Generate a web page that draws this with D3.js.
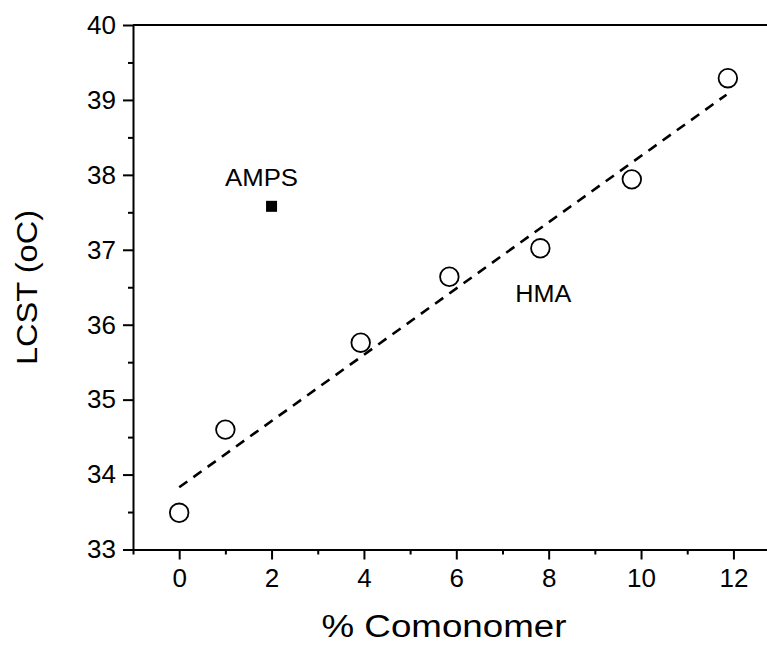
<!DOCTYPE html>
<html>
<head>
<meta charset="utf-8">
<script src="https://cdn.jsdelivr.net/npm/d3@7"></script>
<style>
  html, body { margin: 0; padding: 0; background: #fff; }
  svg { display: block; font-family: "Liberation Sans", Arial, Helvetica, sans-serif; }
</style>
</head>
<body>
<svg id="chart" width="767" height="646"></svg>
<script>
// ---- data ----
const hmaX = [0, 1, 3.93, 5.85, 7.82, 9.8, 11.88];
const hmaY = [33.49, 34.6, 35.76, 36.64, 37.02, 37.94, 39.29];
const ampsX = [2.0];
const ampsY = [37.58];
const fitX = [0, 11.85];
const fitY = [33.83, 39.07];
const xMajorTicks = [0, 2, 4, 6, 8, 10, 12];
const xMinorTicks = [-1, 1, 3, 5, 7, 9, 11];
const yMajorTicks = [33, 34, 35, 36, 37, 38, 39, 40];
const yMinorTicks = [33.5, 34.5, 35.5, 36.5, 37.5, 38.5, 39.5];
const labels = [
  { text: "AMPS", x: 2.0, y: 37.58, dx: -10, dy: -20, len: 73 },
  { text: "HMA", x: 7.82, y: 37.02, dx: 3, dy: 54, len: 56 }
];

const svg = d3.select("#chart");
const x = d3.scaleLinear().domain([-1, 13]).range([133, 779.6]);
const y = d3.scaleLinear().domain([33, 40]).range([549.5, 25]);

const axisStyle = g => {
  g.selectAll("path, line").attr("stroke", "#000").attr("stroke-width", 2);
  g.selectAll("text").attr("fill", "#000").attr("font-size", 26)
    .attr("font-family", "'Liberation Sans', Arial, sans-serif");
};

// top frame line
svg.append("line")
  .attr("x1", x(-1)).attr("x2", x(13))
  .attr("y1", y(40)).attr("y2", y(40))
  .attr("stroke", "#000").attr("stroke-width", 2);

// x axis major
const gx = svg.append("g").attr("transform", `translate(0,${y(33)})`)
  .call(d3.axisBottom(x).tickValues(xMajorTicks).tickSize(10).tickSizeOuter(0).tickPadding(9)
    .tickFormat(d3.format("d")));
gx.call(axisStyle);
gx.selectAll("text").attr("dy", "0.71em");
// x axis minor
const gxm = svg.append("g").attr("transform", `translate(0,${y(33)})`)
  .call(d3.axisBottom(x).tickValues(xMinorTicks).tickSize(5).tickSizeOuter(0).tickFormat(""));
gxm.call(axisStyle);
gxm.select("path").remove();

// y axis major
const gy = svg.append("g").attr("transform", `translate(${x(-1)},0)`)
  .call(d3.axisLeft(y).tickValues(yMajorTicks).tickSize(10).tickSizeOuter(0).tickPadding(7)
    .tickFormat(d3.format("d")));
gy.call(axisStyle);
// y axis minor
const gym = svg.append("g").attr("transform", `translate(${x(-1)},0)`)
  .call(d3.axisLeft(y).tickValues(yMinorTicks).tickSize(5).tickSizeOuter(0).tickFormat(""));
gym.call(axisStyle);
gym.select("path").remove();

// fit line
svg.append("path")
  .datum(fitX.map((v, i) => [v, fitY[i]]))
  .attr("d", d3.line().x(d => x(d[0])).y(d => y(d[1])))
  .attr("fill", "none").attr("stroke", "#000").attr("stroke-width", 2.6)
  .attr("stroke-dasharray", "10,7.5");

// HMA circles
svg.append("g").selectAll("circle")
  .data(hmaX.map((v, i) => [v, hmaY[i]]))
  .join("circle")
  .attr("cx", d => x(d[0])).attr("cy", d => y(d[1])).attr("r", 9.3)
  .attr("fill", "#fff").attr("stroke", "#000").attr("stroke-width", 1.8);

// AMPS square
svg.append("g").selectAll("rect")
  .data(ampsX.map((v, i) => [v, ampsY[i]]))
  .join("rect")
  .attr("x", d => x(d[0]) - 5.5).attr("y", d => y(d[1]) - 5.5)
  .attr("width", 11).attr("height", 11).attr("fill", "#000");

// point labels
svg.append("g").selectAll("text")
  .data(labels)
  .join("text")
  .attr("x", d => x(d.x) + d.dx).attr("y", d => y(d.y) + d.dy)
  .attr("text-anchor", "middle").attr("font-size", 24.5).attr("fill", "#000")
  .attr("textLength", d => d.len).attr("lengthAdjust", "spacingAndGlyphs")
  .text(d => d.text);

// axis titles
svg.append("text")
  .attr("x", 444).attr("y", 637)
  .attr("text-anchor", "middle").attr("font-size", 31)
  .attr("textLength", 245).attr("lengthAdjust", "spacingAndGlyphs")
  .text("% Comonomer");

svg.append("text")
  .attr("transform", "translate(37,287.5) rotate(-90)")
  .attr("text-anchor", "middle").attr("font-size", 30)
  .attr("textLength", 155).attr("lengthAdjust", "spacingAndGlyphs")
  .text("LCST (oC)");
</script>
</body>
</html>
